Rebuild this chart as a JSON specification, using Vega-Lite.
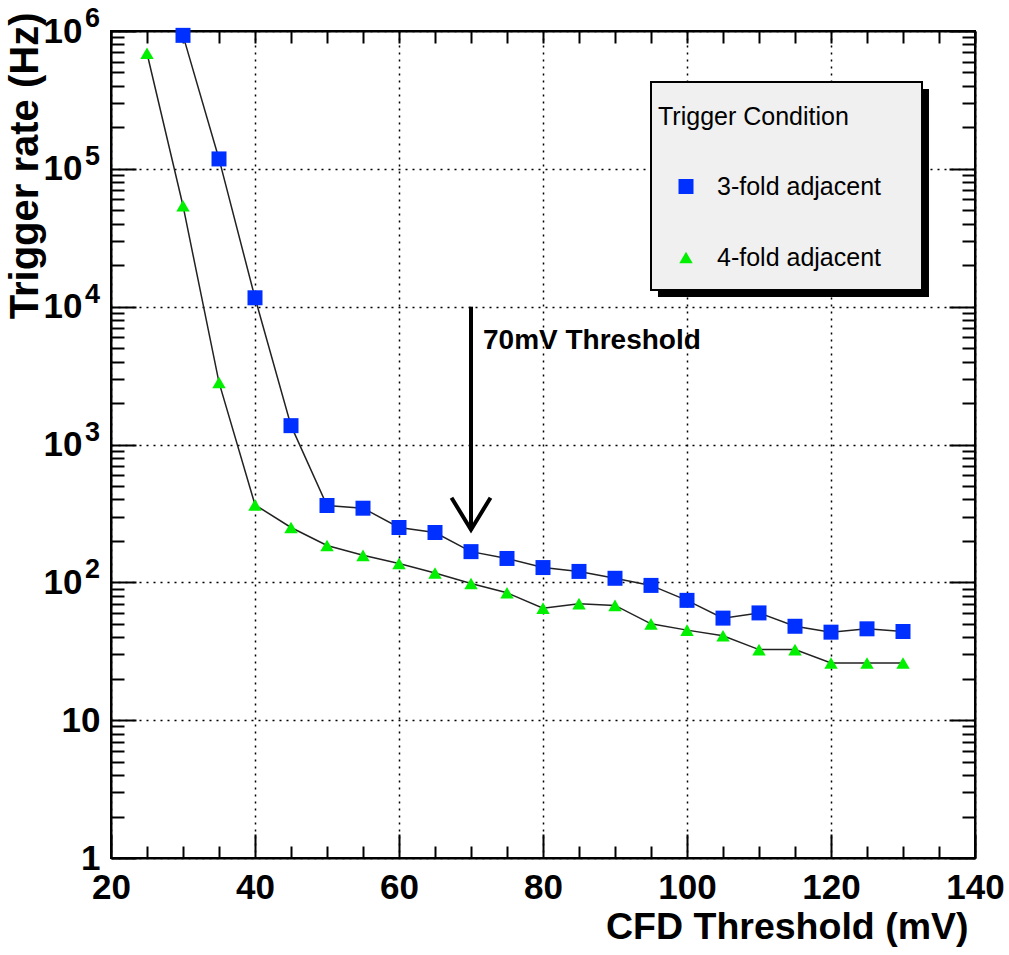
{
  "$schema": "https://vega.github.io/schema/vega-lite/v6.json",
  "width": 864,
  "height": 827,
  "autosize": {"type": "none"},
  "padding": {"left": 111, "top": 31, "right": 34, "bottom": 97},
  "background": "white",
  "config": {
    "view": {"stroke": "black", "strokeWidth": 2},
    "axis": {
      "labelFont": "Liberation Sans", "labelFontWeight": "bold", "labelFontSize": 35, "labelColor": "black",
      "titleFont": "Liberation Sans", "titleFontWeight": "bold", "titleColor": "black",
      "domainColor": "black", "domainWidth": 2, "tickColor": "black", "tickWidth": 2,
      "gridColor": "black", "gridDash": [2, 5], "gridWidth": 1.5,
      "labelOverlap": false, "labelFlush": false, "zindex": 0
    }
  },
  "datasets": {
    "rates": [
      {"mv": 30, "rate": 930000, "series": "3-fold adjacent"},
      {"mv": 35, "rate": 118000, "series": "3-fold adjacent"},
      {"mv": 40, "rate": 11600, "series": "3-fold adjacent"},
      {"mv": 45, "rate": 1370, "series": "3-fold adjacent"},
      {"mv": 50, "rate": 361, "series": "3-fold adjacent"},
      {"mv": 55, "rate": 345, "series": "3-fold adjacent"},
      {"mv": 60, "rate": 250, "series": "3-fold adjacent"},
      {"mv": 65, "rate": 230, "series": "3-fold adjacent"},
      {"mv": 70, "rate": 167, "series": "3-fold adjacent"},
      {"mv": 75, "rate": 149, "series": "3-fold adjacent"},
      {"mv": 80, "rate": 128, "series": "3-fold adjacent"},
      {"mv": 85, "rate": 120, "series": "3-fold adjacent"},
      {"mv": 90, "rate": 107, "series": "3-fold adjacent"},
      {"mv": 95, "rate": 95, "series": "3-fold adjacent"},
      {"mv": 100, "rate": 74, "series": "3-fold adjacent"},
      {"mv": 105, "rate": 55, "series": "3-fold adjacent"},
      {"mv": 110, "rate": 60, "series": "3-fold adjacent"},
      {"mv": 115, "rate": 48, "series": "3-fold adjacent"},
      {"mv": 120, "rate": 43.5, "series": "3-fold adjacent"},
      {"mv": 125, "rate": 46, "series": "3-fold adjacent"},
      {"mv": 130, "rate": 44, "series": "3-fold adjacent"},
      {"mv": 25, "rate": 690000, "series": "4-fold adjacent"},
      {"mv": 30, "rate": 54000, "series": "4-fold adjacent"},
      {"mv": 35, "rate": 2820, "series": "4-fold adjacent"},
      {"mv": 40, "rate": 365, "series": "4-fold adjacent"},
      {"mv": 45, "rate": 250, "series": "4-fold adjacent"},
      {"mv": 50, "rate": 185, "series": "4-fold adjacent"},
      {"mv": 55, "rate": 157, "series": "4-fold adjacent"},
      {"mv": 60, "rate": 137, "series": "4-fold adjacent"},
      {"mv": 65, "rate": 117, "series": "4-fold adjacent"},
      {"mv": 70, "rate": 98, "series": "4-fold adjacent"},
      {"mv": 75, "rate": 84, "series": "4-fold adjacent"},
      {"mv": 80, "rate": 65, "series": "4-fold adjacent"},
      {"mv": 85, "rate": 70, "series": "4-fold adjacent"},
      {"mv": 90, "rate": 68, "series": "4-fold adjacent"},
      {"mv": 95, "rate": 50, "series": "4-fold adjacent"},
      {"mv": 100, "rate": 45, "series": "4-fold adjacent"},
      {"mv": 105, "rate": 41, "series": "4-fold adjacent"},
      {"mv": 110, "rate": 32.5, "series": "4-fold adjacent"},
      {"mv": 115, "rate": 32.5, "series": "4-fold adjacent"},
      {"mv": 120, "rate": 26, "series": "4-fold adjacent"},
      {"mv": 125, "rate": 26, "series": "4-fold adjacent"},
      {"mv": 130, "rate": 26, "series": "4-fold adjacent"}
    ],
    "exps": [
      {"v": 100, "e": "2"},
      {"v": 1000, "e": "3"},
      {"v": 10000, "e": "4"},
      {"v": 100000, "e": "5"},
      {"v": 1000000, "e": "6"}
    ]
  },
  "resolve": {"axis": {"x": "independent", "y": "independent"}},
  "layer": [
    {
      "data": {"name": "rates"},
      "mark": {"type": "line", "color": "#222222", "strokeWidth": 1.5},
      "encoding": {
        "x": {
          "field": "mv", "type": "quantitative",
          "scale": {"domain": [20, 140], "nice": false, "zero": false},
          "axis": {
            "orient": "bottom",
            "values": [20,25,30,35,40,45,50,55,60,65,70,75,80,85,90,95,100,105,110,115,120,125,130,135,140],
            "tickSize": {"condition": {"test": "datum.value % 20 === 0", "value": -24}, "value": -12},
            "labelExpr": "datum.value % 20 === 0 ? datum.label : ''",
            "labelPadding": 36,
            "grid": true,
            "gridOpacity": {"condition": {"test": "datum.value % 20 === 0", "value": 1}, "value": 0},
            "title": "CFD Threshold (mV)",
            "titleFontSize": 37.5,
            "titleX": 857, "titleY": 80, "titleAlign": "right", "titleBaseline": "alphabetic"
          }
        },
        "y": {
          "field": "rate", "type": "quantitative",
          "scale": {"type": "log", "domain": [1, 1000000], "nice": false},
          "axis": {
            "orient": "left",
            "values": [1,2,3,4,5,6,7,8,9,10,20,30,40,50,60,70,80,90,100,200,300,400,500,600,700,800,900,1000,2000,3000,4000,5000,6000,7000,8000,9000,10000,20000,30000,40000,50000,60000,70000,80000,90000,100000,200000,300000,400000,500000,600000,700000,800000,900000,1000000],
            "tickSize": {"condition": {"test": "indexof([1,10,100,1000,10000,100000,1000000], datum.value) >= 0", "value": -25}, "value": -13},
            "labelExpr": "datum.value === 1 ? '1' : (indexof([10,100,1000,10000,100000,1000000], datum.value) >= 0 ? '10' : '')",
            "labelPadding": {"condition": {"test": "datum.value >= 100", "value": 54}, "value": 36},
            "labelBaseline": "middle",
            "grid": true,
            "gridOpacity": {"condition": {"test": "indexof([1,10,100,1000,10000,100000,1000000], datum.value) >= 0", "value": 1}, "value": 0},
            "title": "Trigger rate (Hz)",
            "titleFontSize": 40,
            "titleAngle": 270, "titleAlign": "right", "titleBaseline": "alphabetic",
            "titleX": -74, "titleY": -19
          }
        },
        "detail": {"field": "series", "type": "nominal"}
      }
    },
    {
      "data": {"name": "rates"},
      "mark": {"type": "point", "filled": true, "opacity": 1, "strokeWidth": 0},
      "encoding": {
        "x": {
          "field": "mv", "type": "quantitative",
          "axis": {
            "orient": "top",
            "values": [20,25,30,35,40,45,50,55,60,65,70,75,80,85,90,95,100,105,110,115,120,125,130,135,140],
            "tickSize": -12, "labels": false, "grid": false, "title": null
          }
        },
        "y": {
          "field": "rate", "type": "quantitative",
          "axis": {
            "orient": "right",
            "values": [1,2,3,4,5,6,7,8,9,10,20,30,40,50,60,70,80,90,100,200,300,400,500,600,700,800,900,1000,2000,3000,4000,5000,6000,7000,8000,9000,10000,20000,30000,40000,50000,60000,70000,80000,90000,100000,200000,300000,400000,500000,600000,700000,800000,900000,1000000],
            "tickSize": {"condition": {"test": "indexof([1,10,100,1000,10000,100000,1000000], datum.value) >= 0", "value": -26}, "value": -13},
            "labels": false, "grid": false, "title": null
          }
        },
        "color": {
          "field": "series", "type": "nominal",
          "scale": {"domain": ["3-fold adjacent", "4-fold adjacent"], "range": ["#0030ff", "#00f000"]},
          "legend": {
            "title": "Trigger Condition",
            "orient": "none", "legendX": 547, "legendY": 74,
            "padding": 0,
            "titleFont": "Liberation Sans", "titleFontSize": 25, "titleFontWeight": "normal", "titleColor": "black",
            "titlePadding": 44, "titleLimit": 400,
            "labelFont": "Liberation Sans", "labelFontSize": 25, "labelColor": "black",
            "labelOffset": 18.5, "symbolOffset": 15.5, "rowPadding": 45, "labelLimit": 400,
            "symbolStrokeWidth": 0
          }
        },
        "shape": {
          "field": "series", "type": "nominal",
          "scale": {"domain": ["3-fold adjacent", "4-fold adjacent"], "range": ["square", "triangle-up"]}
        },
        "size": {
          "field": "series", "type": "nominal",
          "scale": {"domain": ["3-fold adjacent", "4-fold adjacent"], "range": [225, 180]}
        }
      }
    },
    {
      "data": {"values": [{}]},
      "mark": {"type": "rect", "color": "black"},
      "encoding": {
        "x": {"datum": 95.97, "type": "quantitative", "axis": null},
        "x2": {"datum": 133.61},
        "y": {"datum": 379600, "type": "quantitative", "axis": null},
        "y2": {"datum": 11750}
      }
    },
    {
      "data": {"values": [{}]},
      "mark": {"type": "rect", "fill": "#f0f0f0", "stroke": "black", "strokeWidth": 2},
      "encoding": {
        "x": {"datum": 95.0, "type": "quantitative", "axis": null},
        "x2": {"datum": 132.64},
        "y": {"datum": 426600, "type": "quantitative", "axis": null},
        "y2": {"datum": 13210}
      }
    },
    {
      "data": {"values": [{}]},
      "mark": {"type": "rule", "color": "black", "strokeWidth": 4},
      "encoding": {
        "x": {"datum": 70, "type": "quantitative", "axis": null},
        "y": {"datum": 10000, "type": "quantitative", "axis": null},
        "y2": {"datum": 241}
      }
    },
    {
      "data": {"values": [{}]},
      "mark": {"type": "point", "shape": "M -1 -1.64 L 0 0 L 1 -1.64", "filled": false, "stroke": "black", "strokeWidth": 4, "size": 1521, "opacity": 1, "strokeJoin": "miter"},
      "encoding": {
        "x": {"datum": 70, "type": "quantitative", "axis": null},
        "y": {"datum": 241, "type": "quantitative", "axis": null}
      }
    },
    {
      "data": {"values": [{}]},
      "mark": {"type": "text", "text": "70mV Threshold", "align": "left", "baseline": "alphabetic", "dx": 12, "dy": 42, "font": "Liberation Sans", "fontWeight": "bold", "fontSize": 28, "color": "black"},
      "encoding": {
        "x": {"datum": 70, "type": "quantitative", "axis": null},
        "y": {"datum": 10000, "type": "quantitative", "axis": null}
      }
    },
    {
      "data": {"name": "exps"},
      "mark": {"type": "text", "align": "right", "baseline": "middle", "dx": -11, "dy": -12, "font": "Liberation Sans", "fontWeight": "bold", "fontSize": 27, "color": "black"},
      "encoding": {
        "x": {"datum": 20, "type": "quantitative", "axis": null},
        "y": {"field": "v", "type": "quantitative", "axis": null},
        "text": {"field": "e", "type": "nominal"}
      }
    }
  ]
}
